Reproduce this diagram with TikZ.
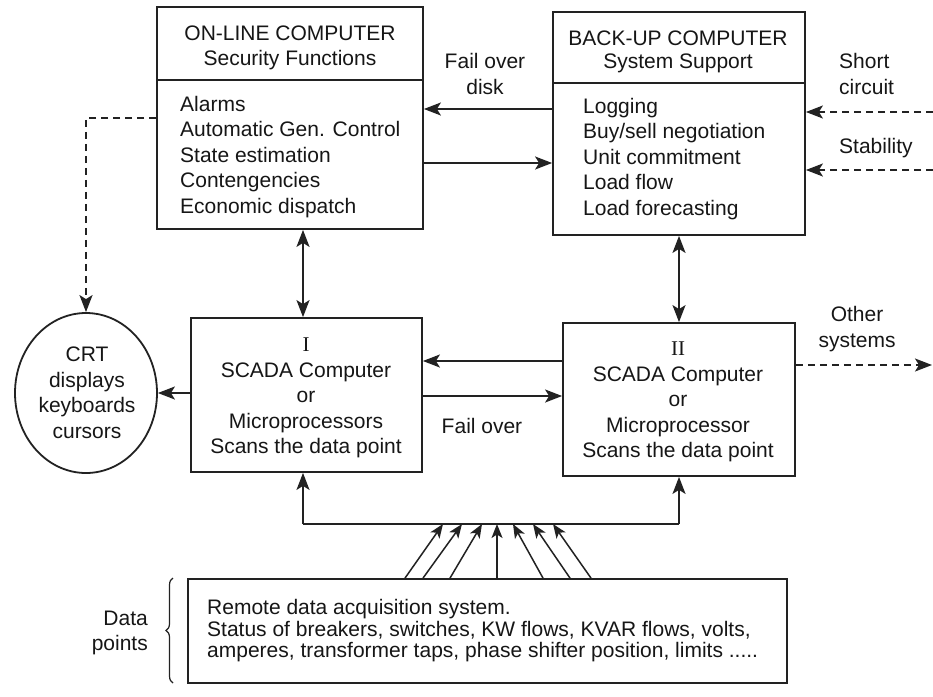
\documentclass[tikz,border=0pt]{standalone}
\usepackage{fontspec}
\setmainfont{Liberation Sans}
\newfontfamily\romanfont{Liberation Serif}
\usetikzlibrary{arrows.meta,decorations.pathreplacing,calc,shapes.geometric}
\definecolor{inkc}{HTML}{222222}
\definecolor{textc}{HTML}{161616}

\begin{document}
\begin{tikzpicture}[x=1pt,y=-1pt,
  ink/.style={draw=inkc, line width=1.8pt},
  box/.style={ink, rectangle, inner sep=0pt},
  txt/.style={text=textc, font=\fontsize{21}{25.5}\selectfont, inner sep=0pt},
  tip/.style={>={Stealth[length=17pt,width=13pt,inset=4pt]}},
  arr/.style={ink, tip, ->},
  darr/.style={ink, tip, <->},
  dsh/.style={dash pattern=on 7pt off 5pt},
  sarr/.style={draw=inkc, line width=1.5pt, -{Stealth[length=14pt,width=11pt,inset=3.5pt]}}
]
\fill[white] (0,0) rectangle (933,696);
\useasboundingbox (0,0) rectangle (933,696);

% main boxes
\node[box, minimum width=266pt, minimum height=222pt] (online) at (290,118) {};
\node[box, minimum width=252pt, minimum height=223pt] (backup) at (679,123.5) {};
\node[box, minimum width=231pt, minimum height=154pt] (scadaA) at (306.5,395) {};
\node[box, minimum width=232pt, minimum height=153pt] (scadaB) at (679,399.5) {};
\node[ink, ellipse, minimum width=142pt, minimum height=160pt, inner sep=0pt] (crt) at (86,393) {};
\node[box, minimum width=599pt, minimum height=104pt] (remote) at (487.5,631) {};

% header dividers
\coordinate (onlineDiv) at (0,80);
\coordinate (backupDiv) at (0,83);
\draw[ink] (online.west |- onlineDiv) -- (online.east |- onlineDiv);
\draw[ink] (backup.west |- backupDiv) -- (backup.east |- backupDiv);

% box texts
\node[txt, align=center] (onlineHead) at (290,48) {ON-LINE COMPUTER\\Security Functions};
\node[txt, align=left, anchor=west] (onlineList) at (180,157)
  {Alarms\\Automatic Gen. Control\\State estimation\\Contengencies\\Economic dispatch};
\node[txt, align=center] (backupHead) at (678,52) {BACK-UP COMPUTER\\[-3pt]System Support};
\node[txt, align=left, anchor=west] (backupList) at (583,159)
  {Logging\\Buy/sell negotiation\\Unit commitment\\Load flow\\Load forecasting};
\node[txt, align=center] (scadaAText) at (306,398)
  {{\romanfont I}\\SCADA Computer\\or\\Microprocessors\\Scans the data point};
\node[txt, align=center] (scadaBText) at (678,402)
  {{\romanfont II}\\SCADA Computer\\or\\Microprocessor\\Scans the data point};
\node[txt, align=center] (crtText) at (87,393) {CRT\\displays\\keyboards\\cursors};
\node[txt, align=left, anchor=west, font=\fontsize{21}{21.5}\selectfont] (remoteText) at (207,631)
  {Remote data acquisition system.\\Status of breakers, switches, KW flows, KVAR flows, volts,\\amperes, transformer taps, phase shifter position, limits .....};

% free labels
\node[txt, align=center] (failDisk) at (485,74) {Fail over\\disk};
\node[txt, align=left, anchor=west] (shortLbl) at (839,74) {Short\\circuit};
\node[txt, align=left, anchor=west] (stabLbl) at (839,148) {Stability};
\node[txt, align=center] (failLbl) at (482,426) {Fail over};
\node[txt, align=center] (otherLbl) at (857,329) {Other\\systems};
\node[txt, align=right, anchor=east] (dataLbl) at (148,633) {Data\\points};

% brace beside the data points
\draw[draw=inkc, line width=1.2pt, decorate, decoration={brace, amplitude=7pt}]
  (173,683) -- (173,578);

% fail over disk link
\coordinate (diskBack) at (0,109);
\coordinate (diskFwd) at (0,163);
\draw[arr] (backup.west |- diskBack) -- (online.east |- diskBack);
\draw[arr] (online.east |- diskFwd) -- (backup.west |- diskFwd);

% analysis inputs to the back-up computer
\coordinate (scIn) at (933,112);
\coordinate (stIn) at (933,170);
\draw[arr, dsh] (scIn) -- (backup.east |- scIn);
\draw[arr, dsh] (stIn) -- (backup.east |- stIn);

% computer <-> SCADA links
\coordinate (vA) at (303,0);
\draw[darr] (online.south -| vA) -- (scadaA.north -| vA);
\draw[darr] (backup.south) -- (scadaB.north -| backup.south);

% SCADA fail over
\coordinate (foBack) at (0,361);
\coordinate (foFwd) at (0,396);
\draw[arr] (scadaB.west |- foBack) -- (scadaA.east |- foBack);
\draw[arr] (scadaA.east |- foFwd) -- (scadaB.west |- foFwd);

% operator consoles
\draw[arr] (scadaA.west |- crt.east) -- (crt.east);
\draw[arr, dsh] (online.west) -| (crt.north);

% other systems
\coordinate (otherOut) at (932,365);
\draw[arr, dsh] (scadaB.east |- otherOut) -- (otherOut);

% data bus from the remote acquisition system
\coordinate (busA) at (303,524);
\coordinate (busB) at (679,524);
\draw[ink] (busA) -- (busB);
\draw[arr] (busA) -- (scadaA.south -| busA);
\draw[arr] (busB) -- (scadaB.south -| busB);
\foreach \s/\t in {405/443,423/462,450/482,497/497,543/513,570/533,591/553}
  \draw[sarr] (remote.north -| \s,0) -- (busA -| \t,0);
\end{tikzpicture}
\end{document}
